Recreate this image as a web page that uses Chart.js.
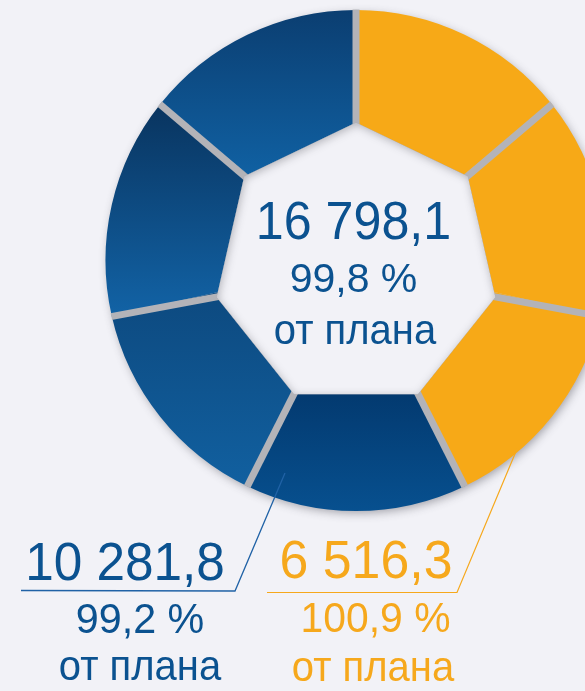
<!DOCTYPE html>
<html>
<head>
<meta charset="utf-8">
<script src="https://cdn.jsdelivr.net/npm/chart.js@4.4.0/dist/chart.umd.min.js"></script>
<style>
  html, body { margin: 0; padding: 0; background: #f2f2f7; overflow: hidden; width: 585px; height: 691px; }
  #wrap { position: absolute; left: 0; top: 0; width: 712px; height: 691px; }
</style>
</head>
<body>
<div id="wrap"><canvas id="c" width="712" height="691"></canvas></div>
<script>
// ---- data ----
const segmentLabels = ['Сегмент 1', 'Сегмент 2', 'Сегмент 3', 'Сегмент 4', 'Сегмент 5', 'Сегмент 6', 'Сегмент 7'];
const segmentValues = [1, 1, 1, 1, 1, 1, 1];
const segmentGroup  = ['orange', 'orange', 'orange', 'blue', 'blue', 'blue', 'blue'];
const totalValue  = '16 798,1';
const totalPct    = '99,8 %';
const blueValue   = '10 281,8';
const bluePct     = '99,2 %';
const orangeValue = '6 516,3';
const orangePct   = '100,9 %';
const planLabel   = 'от плана';

// ---- styles ----
const BG = '#f2f2f7';
const ORANGE = '#f7a917';
const BLUE_TEXT = '#0b5290';
const ORANGE_TEXT = '#f6a81c';
const blueGradients = {
  3: ['#033a70', '#07508f'],
  4: ['#0d4a80', '#1160a0'],
  5: ['#09345f', '#1263a6'],
  6: ['#0b3e71', '#1061a3']
};
const INNER_R = 143;
const HOLE_SHIFT_Y = 5;

function geom(chart) {
  const a = chart.chartArea;
  return { cx: (a.left + a.right) / 2, cy: (a.top + a.bottom) / 2, R: Math.min(a.right - a.left, a.bottom - a.top) / 2 };
}
function segAngles(i) {
  const total = segmentValues.reduce((s, v) => s + v, 0);
  let before = 0;
  for (let k = 0; k < i; k++) before += segmentValues[k];
  const a0 = -Math.PI / 2 + 2 * Math.PI * before / total;
  const a1 = a0 + 2 * Math.PI * segmentValues[i] / total;
  return [a0, a1];
}

function bgColor(ctx) {
  const i = ctx.dataIndex;
  if (segmentGroup[i] === 'orange') return ORANGE;
  const chart = ctx.chart;
  if (!chart.chartArea) return blueGradients[i] ? blueGradients[i][1] : '#0d5599';
  const g = geom(chart);
  const [a0, a1] = segAngles(i);
  const ys = [];
  [a0, a1].forEach(a => { ys.push(g.cy + HOLE_SHIFT_Y + Math.sin(a) * INNER_R, g.cy + Math.sin(a) * g.R); });
  for (let k = -2; k <= 2; k++) {
    const e = Math.PI / 2 + k * Math.PI;
    if (e > a0 && e < a1) ys.push(g.cy + Math.sin(e) * g.R);
  }
  const y0 = Math.min(...ys), y1 = Math.max(...ys);
  const grad = chart.ctx.createLinearGradient(0, y0, 0, y1);
  const cols = blueGradients[i] || ['#0b3e71', '#1061a3'];
  grad.addColorStop(0, cols[0]);
  grad.addColorStop(1, cols[1]);
  return grad;
}

function heptPath(ctx, cx, cy, r, meta) {
  ctx.beginPath();
  meta.data.forEach((arc, i) => {
    const a = arc.startAngle;
    const x = cx + Math.cos(a) * r, y = cy + Math.sin(a) * r;
    if (i === 0) ctx.moveTo(x, y); else ctx.lineTo(x, y);
  });
  ctx.closePath();
}

function drawText(ctx, str, x, y, size, color, sx) {
  ctx.save();
  ctx.font = size + 'px "Liberation Sans", Arial, sans-serif';
  ctx.fillStyle = color;
  ctx.textAlign = 'center';
  ctx.textBaseline = 'alphabetic';
  ctx.translate(x, y);
  ctx.scale(sx, 1);
  ctx.fillText(str, 0, 0);
  ctx.restore();
}

const decor = {
  id: 'decor',
  beforeDatasetsDraw(chart) {
    const { ctx } = chart;
    const g = geom(chart);
    ctx.save();
    ctx.shadowColor = 'rgba(60,60,70,0.45)';
    ctx.shadowBlur = 10;
    ctx.shadowOffsetX = 2;
    ctx.shadowOffsetY = 3;
    ctx.fillStyle = '#c8c8cc';
    ctx.beginPath();
    ctx.arc(g.cx, g.cy, g.R - 1, 0, Math.PI * 2);
    ctx.fill();
    ctx.restore();
  },
  afterDatasetsDraw(chart) {
    const { ctx } = chart;
    const g = geom(chart);
    const meta = chart.getDatasetMeta(0);
    const hcx = g.cx, hcy = g.cy + HOLE_SHIFT_Y;
    // separators
    ctx.save();
    ctx.beginPath();
    ctx.arc(g.cx, g.cy, g.R + 0.5, 0, Math.PI * 2);
    ctx.clip();
    ctx.strokeStyle = '#b3b3b8';
    ctx.lineWidth = 7;
    ctx.lineCap = 'butt';
    meta.data.forEach(arc => {
      const a = arc.startAngle;
      ctx.beginPath();
      ctx.moveTo(hcx + Math.cos(a) * (INNER_R - 10), hcy + Math.sin(a) * (INNER_R - 10));
      ctx.lineTo(g.cx + Math.cos(a) * (g.R + 5), g.cy + Math.sin(a) * (g.R + 5));
      ctx.stroke();
    });
    ctx.restore();
    // inner heptagon hole
    ctx.save();
    ctx.fillStyle = BG;
    heptPath(ctx, hcx, hcy, INNER_R, meta);
    ctx.fill();
    // inner shadow
    heptPath(ctx, hcx, hcy, INNER_R, meta);
    ctx.clip();
    ctx.beginPath();
    ctx.rect(0, 0, chart.width, chart.height);
    const pts = meta.data.map(arc => [hcx + Math.cos(arc.startAngle) * INNER_R, hcy + Math.sin(arc.startAngle) * INNER_R]);
    ctx.moveTo(pts[0][0], pts[0][1]);
    for (let k = pts.length - 1; k >= 0; k--) ctx.lineTo(pts[k][0], pts[k][1]);
    ctx.closePath();
    ctx.shadowColor = 'rgba(60,60,70,0.35)';
    ctx.shadowBlur = 9;
    ctx.shadowOffsetX = 1;
    ctx.shadowOffsetY = 2;
    ctx.fillStyle = '#9a9aa0';
    ctx.fill('evenodd');
    ctx.restore();
  },
  afterDraw(chart) {
    const { ctx } = chart;
    // leader lines
    ctx.save();
    ctx.lineWidth = 1.3;
    ctx.strokeStyle = '#2062a6';
    ctx.beginPath();
    ctx.moveTo(21, 590.5); ctx.lineTo(235, 591); ctx.lineTo(285, 473);
    ctx.stroke();
    ctx.strokeStyle = ORANGE_TEXT;
    ctx.lineWidth = 1.2;
    ctx.beginPath();
    ctx.moveTo(267, 592.5); ctx.lineTo(457, 592.5); ctx.lineTo(517, 449);
    ctx.stroke();
    ctx.restore();
    // texts
    drawText(ctx, totalValue, 353.5, 239, 54, BLUE_TEXT, 0.93);
    drawText(ctx, totalPct, 353.5, 292, 41, BLUE_TEXT, 1.0);
    drawText(ctx, planLabel, 355, 344, 43, BLUE_TEXT, 0.93);
    drawText(ctx, blueValue, 125, 580, 54, BLUE_TEXT, 0.95);
    drawText(ctx, bluePct, 140, 633, 43, BLUE_TEXT, 0.96);
    drawText(ctx, planLabel, 140, 680, 43, BLUE_TEXT, 0.93);
    drawText(ctx, orangeValue, 366, 578, 54, ORANGE_TEXT, 0.96);
    drawText(ctx, orangePct, 375.5, 632, 43, ORANGE_TEXT, 0.95);
    drawText(ctx, planLabel, 373, 681, 43, ORANGE_TEXT, 0.93);
  }
};

new Chart(document.getElementById('c'), {
  type: 'doughnut',
  data: {
    labels: segmentLabels,
    datasets: [{
      data: segmentValues,
      backgroundColor: bgColor,
      borderWidth: 0,
      hoverOffset: 0,
      offset: 0
    }]
  },
  options: {
    responsive: false,
    animation: false,
    events: [],
    cutout: 110,
    layout: { padding: { left: 105, right: 105, top: 10, bottom: 180 } },
    plugins: { legend: { display: false }, tooltip: { enabled: false } }
  },
  plugins: [decor]
});
</script>
</body>
</html>
